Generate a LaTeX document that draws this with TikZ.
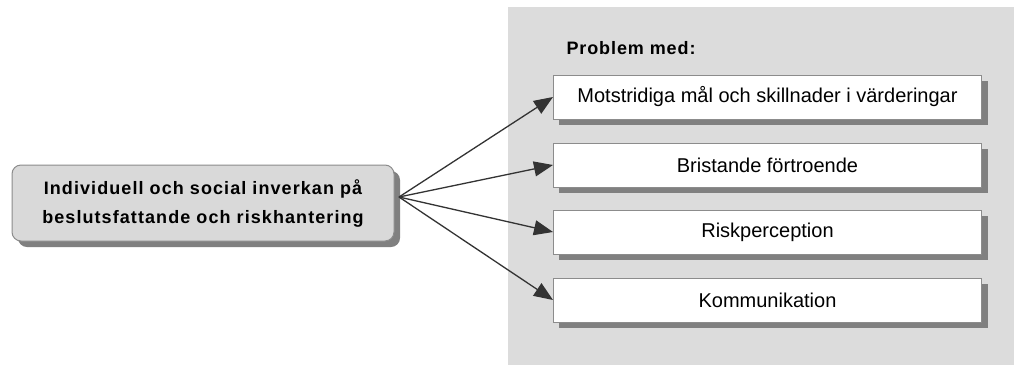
\documentclass[tikz,border=0pt]{standalone}
\usepackage{fontspec}
\setmainfont{Liberation Sans}
\usetikzlibrary{arrows.meta}
\definecolor{panelgray}{HTML}{DCDCDC}
\definecolor{shadowgray}{HTML}{808080}
\definecolor{framegray}{HTML}{8C8C8C}
\definecolor{srcfill}{HTML}{D9D9D9}
\definecolor{arrowdark}{HTML}{333333}
\begin{document}
\begin{tikzpicture}[x=1pt,y=-1pt,
  problembox/.style={draw=framegray, line width=1pt, fill=white,
    minimum width=428pt, minimum height=44pt, inner sep=0pt,
    font=\fontsize{20}{24}\selectfont},
  srcbox/.style={draw=framegray, line width=1pt, fill=srcfill,
    rounded corners=9pt, minimum width=382pt, minimum height=76pt,
    align=center, inner sep=0pt,
    font=\fontsize{18}{29}\selectfont\bfseries\addfontfeature{LetterSpace=6}},
  boxshadow/.style={fill=shadowgray, draw=none},
  link/.style={draw=arrowdark, line width=1.3pt,
    -{Triangle[length=19pt,width=15pt]}}]
  \useasboundingbox (0,0) rectangle (1014,365);

  % grey panel holding the problem list
  \fill[panelgray] (508,7) rectangle (1014,365);
  \node[anchor=west, font=\fontsize{18}{22}\selectfont\bfseries\addfontfeature{LetterSpace=5}]
    (title) at (563,48) {Problem med:};

  % shadows
  \fill[boxshadow, rounded corners=9pt] (18,171) rectangle (400,247);
  \foreach \y in {75,143,210,278}
    \fill[boxshadow] (559,\y+6) rectangle (988,\y+50);

  % source box
  \node[srcbox] (src) at (203,203)
    {Individuell och social inverkan på\\beslutsfattande och riskhantering};

  % problem boxes
  \node[problembox] (p1) at (767.5,97) {Motstridiga mål och skillnader i värderingar};
  \node[problembox] (p2) at (767.5,165) {Bristande förtroende};
  \node[problembox] (p3) at (767.5,232) {Riskperception};
  \node[problembox] (p4) at (767.5,300) {Kommunikation};

  % fan of arrows
  \coordinate (fan) at (399,197);
  \foreach \p in {p1,p2,p3,p4}
    \draw[link] (fan) -- (\p.west);
\end{tikzpicture}
\end{document}
